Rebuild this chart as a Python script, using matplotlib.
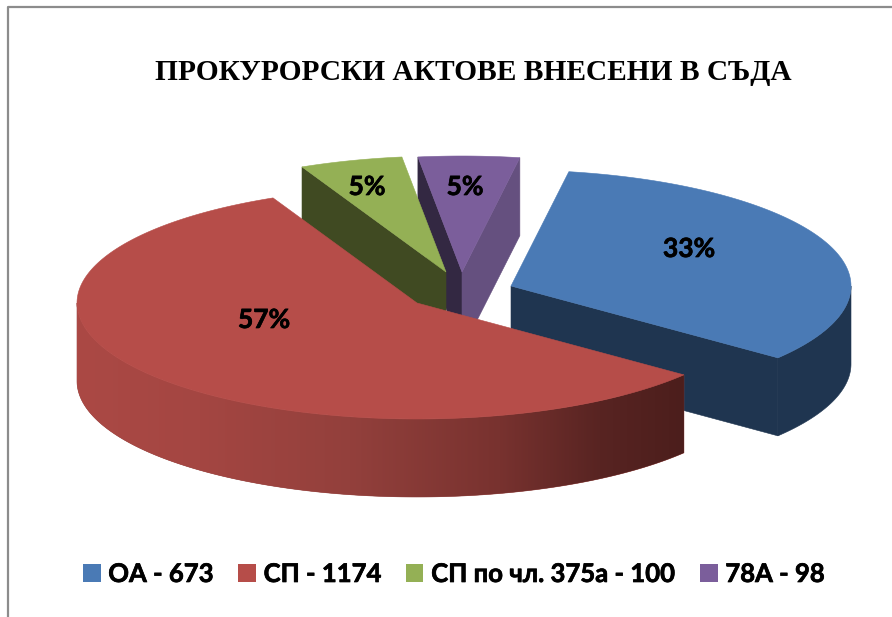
import numpy as np
import matplotlib
matplotlib.use('Agg')
import matplotlib.pyplot as plt
import matplotlib.patheffects as pe
from matplotlib.patches import Polygon, Patch

title = 'ПРОКУРОРСКИ АКТОВЕ ВНЕСЕНИ В СЪДА'
names = ['ОА', 'СП', 'СП по чл. 375а', '78А']
values = [673, 1174, 100, 98]
colors = ['#4a7ab5', '#b64d49', '#94b055', '#7b5e9b']

# layout of the fake 3d pie, in pixels
centers = [(511, 286), (417, 303), (446, 272), (462, 272)]
rx, ry, depth = 340, 116, 78
start_angle = 9.8
label_pos = [(689, 249), (264, 320), (367, 187), (465, 187)]

plt.rcParams['font.family'] = ['Lato', 'Noto Sans', 'DejaVu Sans']

fig = plt.figure(figsize=(8.92, 6.17), dpi=100)
ax = fig.add_axes([0, 0, 1, 1])
ax.set_xlim(0, 892)
ax.set_ylim(617, 0)
ax.axis('off')


def arc(c, a, b, n=200):
    t = np.radians(np.linspace(a, b, n))
    return np.column_stack([c[0] + rx * np.sin(t), c[1] - ry * np.cos(t)])


def poly(pts, col, z):
    p = Polygon(pts, closed=True, fc=col, ec=col, lw=0.4, zorder=z)
    ax.add_patch(p)
    return p


frac = np.array(values) / sum(values)
edges = start_angle + np.concatenate([[0], np.cumsum(frac) * 360])
down = np.array([0, depth])

# purple
c = np.array(centers[3])
a = arc(c, edges[3], edges[4])
poly([c, a[0], a[0] + down, c + down], '#332842', 1)
poly([c, a[-1], a[-1] + down, c + down], '#65507f', 1)
poly(np.vstack([c, a]), colors[3], 2)

# green
c = np.array(centers[2])
a = arc(c, edges[2], edges[3])
poly([c, a[0], a[0] + down, c + down], '#404a22', 3)
poly(np.vstack([c, a]), colors[2], 4)

# blue
c = np.array(centers[0])
a = arc(c, edges[0], edges[1])
e = arc(c, 90, edges[1])
poly([c, a[-1], a[-1] + down, c + down], '#1f3550', 5)
poly(np.vstack([e, (e + down)[::-1]]), '#1f3550', 5)
poly(np.vstack([c, a]), colors[0], 6)

# red, wall gets darker to the right
c = np.array(centers[1])
a = arc(c, edges[1], edges[2])
w = arc(c, edges[1], 270, 220)
wall = poly(np.vstack([w, (w + down)[::-1]]), '#93403c', 7)
x0, x1 = w[:, 0].min(), w[:, 0].max()
xs = np.linspace(x0, x1, 600)
stops = [77, 200, 350, 500, 600, 683]
grad = np.dstack([np.interp(xs, stops, [0xab, 0xa4, 0x93, 0x78, 0x58, 0x4c]),
                  np.interp(xs, stops, [0x49, 0x46, 0x40, 0x32, 0x24, 0x1e]),
                  np.interp(xs, stops, [0x45, 0x42, 0x3c, 0x2f, 0x22, 0x1c])]) / 255
im = ax.imshow(grad, extent=(x0, x1, 617, 0), aspect='auto', zorder=7.5)
im.set_clip_path(wall)
ax.set_xlim(0, 892)
ax.set_ylim(617, 0)
poly(np.vstack([c, a]), colors[1], 8)

thick = [pe.withStroke(linewidth=0.5, foreground='black')]

for (x, y), f in zip(label_pos, frac):
    ax.text(x, y, '%d%%' % round(f * 100), ha='center', va='center', fontsize=19,
            fontweight='bold', color='black', zorder=10, path_effects=thick)

ax.text(473, 73, title, ha='center', va='center', fontsize=21.2, fontweight='bold',
        family='Liberation Serif', color='black')

# chart frame, only top and left show
ax.plot([892, 8, 8], [7, 7, 617], color='#8c8c8c', lw=1.6, zorder=0)

handles = [Patch(fc=col, ec='none') for col in colors]
labels = ['%s - %d' % (n, v) for n, v in zip(names, values)]
leg = ax.legend(handles, labels, loc='center', bbox_to_anchor=(454 / 892, 1 - 574 / 617), ncol=4,
                frameon=False, prop={'size': 18.5, 'weight': 'bold'}, handlelength=0.68,
                handleheight=0.68, handletextpad=0.3, columnspacing=0.95, borderpad=0)
for t in leg.get_texts():
    t.set_path_effects(thick)

fig.savefig('out.png', dpi=100)
